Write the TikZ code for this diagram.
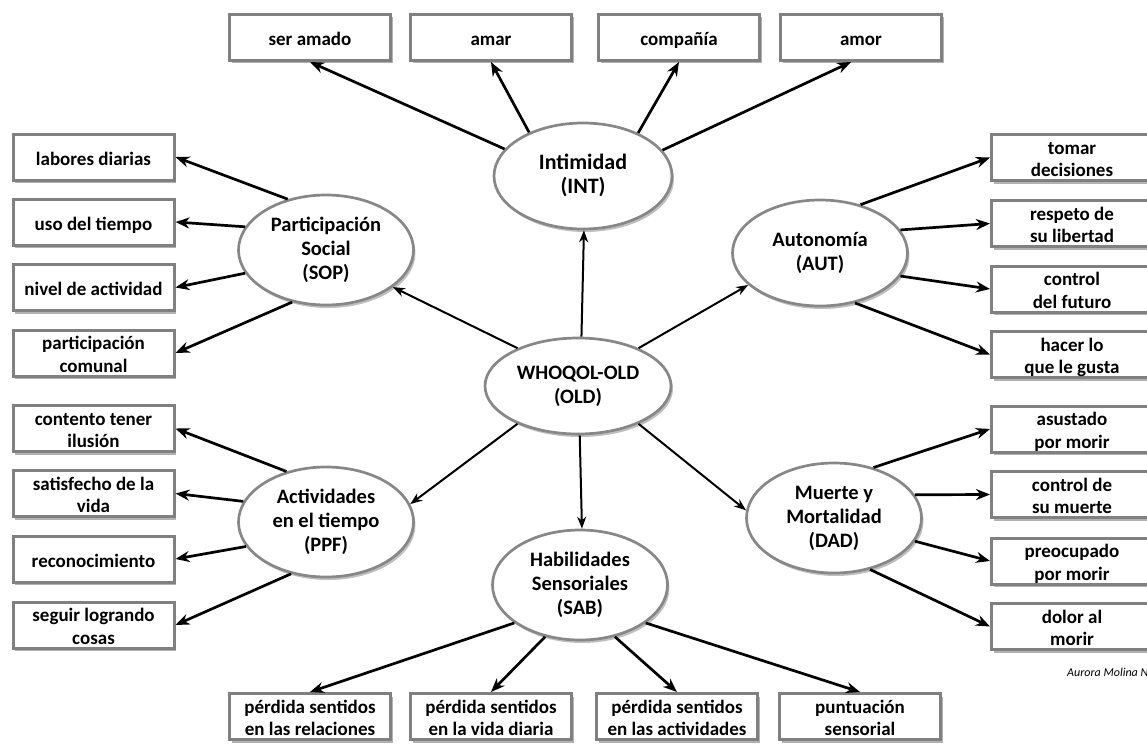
\documentclass[tikz,border=0pt]{standalone}
\usepackage{fontspec}
\setmainfont{Carlito}
\usetikzlibrary{shapes.geometric,arrows.meta,shadows}
\definecolor{boxgray}{RGB}{128,128,128}
\definecolor{ellgray}{RGB}{135,135,135}
\newcommand{\bt}[1]{\raisebox{-3.5pt}[\height][\depth]{\begin{tabular}{@{}c@{}}#1\end{tabular}}}
\newcommand{\et}[1]{\raisebox{-1pt}[\height][\depth]{\begin{tabular}{@{}c@{}}#1\end{tabular}}}
\begin{document}
\begin{tikzpicture}[x=1pt,y=-1pt,
  box/.style={font=\bfseries\fontsize{19}{22.5}\selectfont, draw=boxgray, line width=3pt, fill=white, minimum width=161pt, minimum height=46pt, inner sep=0pt,
    drop shadow={shadow xshift=2pt, shadow yshift=-3pt, fill=black, opacity=0.3}},
  cat/.style={font=\bfseries\fontsize{20.5}{24}\selectfont, ellipse, draw=ellgray, line width=2.7pt, fill=white, inner sep=0pt, minimum width=175pt, minimum height=110pt,
    drop shadow={shadow xshift=2pt, shadow yshift=-3pt, fill=black, opacity=0.25}},
  arr/.style={line width=2.7pt, -{Stealth[length=14pt,width=11pt]}},
  carr/.style={line width=2pt, -{Stealth[length=12pt,width=9pt]}}
]
\useasboundingbox (0,0) rectangle (1147,749);

% ellipses
\node[cat, minimum width=178pt, minimum height=106pt, font=\bfseries\fontsize{22}{24}\selectfont] (int) at (583,176) {\et{Intimidad\\(INT)}};
\node[cat, minimum width=186pt, minimum height=96pt] (old) at (578,386) {\et{WHOQOL-OLD\\(OLD)}};
\node[cat] (sop) at (326,250) {\et{Participación\\Social\\(SOP)}};
\node[cat, minimum height=106pt] (aut) at (820,253) {\et{Autonomía\\(AUT)}};
\node[cat] (ppf) at (326,522) {\et{Actividades\\en el tiempo\\(PPF)}};
\node[cat] (dad) at (834,518) {\et{Muerte y\\Mortalidad\\(DAD)}};
\node[cat] (sab) at (580,585) {\et{Habilidades\\Sensoriales\\(SAB)}};

% top boxes
\node[box] (b1) at (310,37.5) {\bt{ser amado}};
\node[box] (b2) at (491,37.5) {\bt{amar}};
\node[box] (b3) at (679,37.5) {\bt{compañía}};
\node[box] (b4) at (861,37.5) {\bt{amor}};

% left boxes
\node[box] (l1) at (93.5,157) {\bt{labores diarias}};
\node[box] (l2) at (93.5,222) {\bt{uso del tiempo}};
\node[box] (l3) at (93.5,287.5) {\bt{nivel de actividad}};
\node[box] (l4) at (93.5,353) {\bt{participación\\comunal}};
\node[box] (l5) at (93.5,428.5) {\bt{contento tener\\ilusión}};
\node[box] (l6) at (93.5,493.5) {\bt{satisfecho de la\\vida}};
\node[box] (l7) at (93.5,559) {\bt{reconocimiento}};
\node[box] (l8) at (93.5,625) {\bt{seguir logrando\\cosas}};

% right boxes
\node[box] (r1) at (1072,157.5) {\bt{tomar\\decisiones}};
\node[box] (r2) at (1072,223.5) {\bt{respeto de\\su libertad}};
\node[box] (r3) at (1072,289) {\bt{control\\del futuro}};
\node[box] (r4) at (1072,354.5) {\bt{hacer lo\\que le gusta}};
\node[box] (r5) at (1072,429) {\bt{asustado\\por morir}};
\node[box] (r6) at (1072,494.5) {\bt{control de\\su muerte}};
\node[box] (r7) at (1072,561) {\bt{preocupado\\por morir}};
\node[box] (r8) at (1072,626.5) {\bt{dolor al\\morir}};

% bottom boxes
\node[box] (d1) at (310,716.5) {\bt{pérdida sentidos\\en las relaciones}};
\node[box] (d2) at (491,716.5) {\bt{pérdida sentidos\\en la vida diaria}};
\node[box] (d3) at (677,716.5) {\bt{pérdida sentidos\\en las actividades}};
\node[box] (d4) at (860,716.5) {\bt{puntuación\\sensorial}};

% credit
\node[anchor=west, inner sep=0pt, font=\itshape\fontsize{12}{14}\selectfont] (cred) at (1067,672) {Aurora Molina N};

% central arrows
\draw[carr] (old.86) -- (int.-89);
\draw[carr] (old.148) -- (sop.-29);
\draw[carr] (old.32) -- (aut.204);
\draw[carr] (old.212) -- (ppf.12);
\draw[carr] (old.328) -- (dad.175);
\draw[carr] (old.-88) -- (sab.88);

% intimidad
\draw[arr] (int.161) -- (b1.south);
\draw[arr] (int.141) -- (b2.south);
\draw[arr] (int.38) -- (b3.south);
\draw[arr] (int.18) -- ([xshift=-10pt]b4.south);

% participación social
\draw[arr] (sop.127) -- (l1.east);
\draw[arr] (sop.164) -- (l2.east);
\draw[arr] (sop.196) -- (l3.east);
\draw[arr] (sop.237) -- (l4.east);

% actividades
\draw[arr] (ppf.128) -- (l5.east);
\draw[arr] (ppf.166) -- (l6.east);
\draw[arr] (ppf.197) -- (l7.east);
\draw[arr] (ppf.236) -- (l8.east);

% autonomía
\draw[arr] (aut.50) -- (r1.west);
\draw[arr] (aut.16) -- (r2.west);
\draw[arr] (aut.344) -- (r3.west);
\draw[arr] (aut.305) -- (r4.west);

% muerte
\draw[arr] (dad.52) -- (r5.west);
\draw[arr] (dad.16) -- (r6.west);
\draw[arr] (dad.344) -- (r7.west);
\draw[arr] (dad.305) -- (r8.west);

% sensoriales
\draw[arr] (sab.210) -- (d1.north);
\draw[arr] (sab.236) -- (d2.north);
\draw[arr] (sab.304) -- (d3.north);
\draw[arr] (sab.330) -- (d4.north);
\end{tikzpicture}
\end{document}
